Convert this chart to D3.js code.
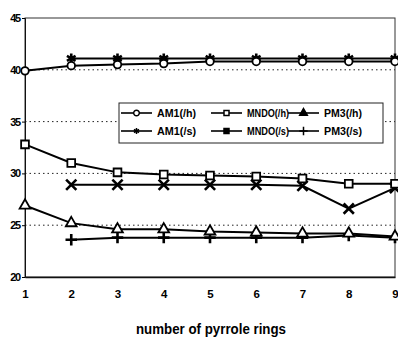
<!DOCTYPE html>
<html>
<head>
<meta charset="utf-8">
<script src="https://cdn.jsdelivr.net/npm/d3@7"></script>
<style>
  body { margin: 0; background: #fff; }
  svg { display: block; font-family: "Liberation Sans", Arial, sans-serif; font-weight: bold; }
</style>
</head>
<body>
<div id="chart"></div>
<script>
const rings = [1, 2, 3, 4, 5, 6, 7, 8, 9];
const yTicks = [20, 25, 30, 35, 40, 45];

// null = no point for that ring count
const am1H = [39.9, 40.4, 40.5, 40.6, 40.8, 40.8, 40.8, 40.8, 40.8];
const am1S = [null, 41.1, 41.1, 41.1, 41.1, 41.1, 41.1, 41.1, 41.1];
const mndoH = [32.8, 31.0, 30.1, 29.9, 29.8, 29.7, 29.5, 29.0, 29.0];
const mndoS = [null, 28.9, 28.9, 28.9, 28.9, 28.9, 28.8, 26.6, 28.6];
const pm3H = [26.9, 25.2, 24.6, 24.6, 24.4, 24.3, 24.2, 24.2, 23.9];
const pm3S = [null, 23.6, 23.8, 23.8, 23.8, 23.8, 23.8, 24.0, 23.8];

const seriesNames = ["AM1(/h)", "MNDO(/h)", "PM3(/h)", "AM1(/s)", "MNDO(/s)", "PM3(/s)"];

const width = 398, height = 338;
const margin = { top: 18, left: 25, bottom: 61, right: 3 };
const iwidth = width - margin.left - margin.right;
const iheight = height - margin.top - margin.bottom;

const svg = d3.select("#chart").append("svg")
  .attr("width", width)
  .attr("height", height);

const g = svg.append("g")
  .attr("transform", `translate(${margin.left},${margin.top})`);

const x = d3.scalePoint().domain(rings).range([0, iwidth]);
const y = d3.scaleLinear().domain([20, 45]).range([iheight, 0]);

// dotted gridlines
g.selectAll("line.grid")
  .data(yTicks.filter((d) => d > 20 && d < 45))
  .enter().append("line")
  .attr("class", "grid")
  .attr("x1", 0).attr("x2", iwidth)
  .attr("y1", (d) => y(d)).attr("y2", (d) => y(d))
  .attr("stroke", "#222")
  .attr("stroke-width", 1)
  .attr("stroke-dasharray", "1.5,3");

// plot border
g.append("rect")
  .attr("x", 0).attr("y", 0)
  .attr("width", iwidth).attr("height", iheight)
  .attr("fill", "none")
  .attr("stroke", "#333")
  .attr("stroke-width", 1);

const yAxis = g.append("g")
  .call(d3.axisLeft(y).tickValues(yTicks).tickSize(3).tickPadding(2).tickFormat(d3.format("d")));
yAxis.select(".domain").attr("stroke", "#111");
yAxis.selectAll("text").attr("font-size", 11).attr("letter-spacing", -1.2).attr("fill", "#000");

const xAxis = g.append("g")
  .attr("transform", `translate(0,${iheight})`)
  .call(d3.axisBottom(x).tickSize(0).tickPadding(13));
xAxis.select(".domain").attr("stroke", "#111").attr("stroke-width", 1.5);
xAxis.selectAll("text").attr("font-size", 11.5).attr("fill", "#000");

svg.append("text")
  .attr("x", 211).attr("y", 334)
  .attr("text-anchor", "middle")
  .attr("font-size", 14)
  .attr("textLength", 150)
  .attr("lengthAdjust", "spacingAndGlyphs")
  .attr("fill", "#000")
  .text("number of pyrrole rings");

// markers
const sym = {
  circle: { type: d3.symbolCircle, size: 45, fill: "#fff" },
  square: { type: d3.symbolSquare, size: 60, fill: "#fff" },
  triangle: { type: d3.symbolTriangle, size: 50, fill: "#fff" },
  asterisk: { type: d3.symbolAsterisk, size: 70, fill: "none" },
  bowtie: { type: d3.symbolX, size: 70, fill: "none" },
  plus: { type: d3.symbolPlus, size: 45, fill: "none" }
};

const series = [
  { name: seriesNames[3], values: am1S, mark: sym.asterisk },
  { name: seriesNames[0], values: am1H, mark: sym.circle },
  { name: seriesNames[4], values: mndoS, mark: sym.bowtie },
  { name: seriesNames[1], values: mndoH, mark: sym.square },
  { name: seriesNames[5], values: pm3S, mark: sym.plus },
  { name: seriesNames[2], values: pm3H, mark: sym.triangle }
];

const line = d3.line()
  .defined((d) => d.v !== null)
  .x((d) => x(d.r))
  .y((d) => y(d.v));

series.forEach((s) => {
  const pts = rings.map((r, i) => ({ r: r, v: s.values[i] }));
  g.append("path")
    .datum(pts)
    .attr("fill", "none")
    .attr("stroke", "#000")
    .attr("stroke-width", 2)
    .attr("d", line);
  g.selectAll(null)
    .data(pts.filter((d) => d.v !== null))
    .enter().append("path")
    .attr("transform", (d) => `translate(${x(d.r)},${y(d.v)})`)
    .attr("d", d3.symbol().type(s.mark.type).size(s.mark.size))
    .attr("fill", s.mark.fill)
    .attr("stroke", "#000")
    .attr("stroke-width", s.mark.fill === "none" ? 2.6 : 1.8);
});

// legend
const legend = svg.append("g");
legend.append("rect")
  .attr("x", 119).attr("y", 103)
  .attr("width", 264).attr("height", 40)
  .attr("fill", "#fff")
  .attr("stroke", "#222")
  .attr("stroke-width", 1);

// legend uses small solid marks for MNDO(/s) and PM3(/h)
const legendItems = [
  { name: seriesNames[0], type: d3.symbolCircle, fill: "#fff", col: 0, row: 0 },
  { name: seriesNames[1], type: d3.symbolSquare, fill: "#fff", col: 1, row: 0 },
  { name: seriesNames[2], type: d3.symbolTriangle, fill: "#000", col: 2, row: 0 },
  { name: seriesNames[3], type: d3.symbolAsterisk, fill: "none", col: 0, row: 1 },
  { name: seriesNames[4], type: d3.symbolSquare, fill: "#000", col: 1, row: 1 },
  { name: seriesNames[5], type: d3.symbolPlus, fill: "none", col: 2, row: 1 }
];
const colX = [121, 211, 288];
const rowY = [113, 131];
const textW = [39, 42, 38];

legendItems.forEach((it) => {
  const lx = colX[it.col], ly = rowY[it.row];
  const item = legend.append("g");
  item.append("line")
    .attr("x1", lx).attr("x2", lx + 31)
    .attr("y1", ly).attr("y2", ly)
    .attr("stroke", "#000").attr("stroke-width", 1.6);
  item.append("path")
    .attr("transform", `translate(${lx + 15.5},${ly})`)
    .attr("d", d3.symbol().type(it.type).size(25))
    .attr("fill", it.fill)
    .attr("stroke", "#000")
    .attr("stroke-width", 1.5);
  item.append("text")
    .attr("x", lx + 36).attr("y", ly + 4)
    .attr("font-size", 11)
    .attr("textLength", textW[it.col])
    .attr("lengthAdjust", "spacingAndGlyphs")
    .attr("fill", "#000")
    .text(it.name);
});
</script>
</body>
</html>
